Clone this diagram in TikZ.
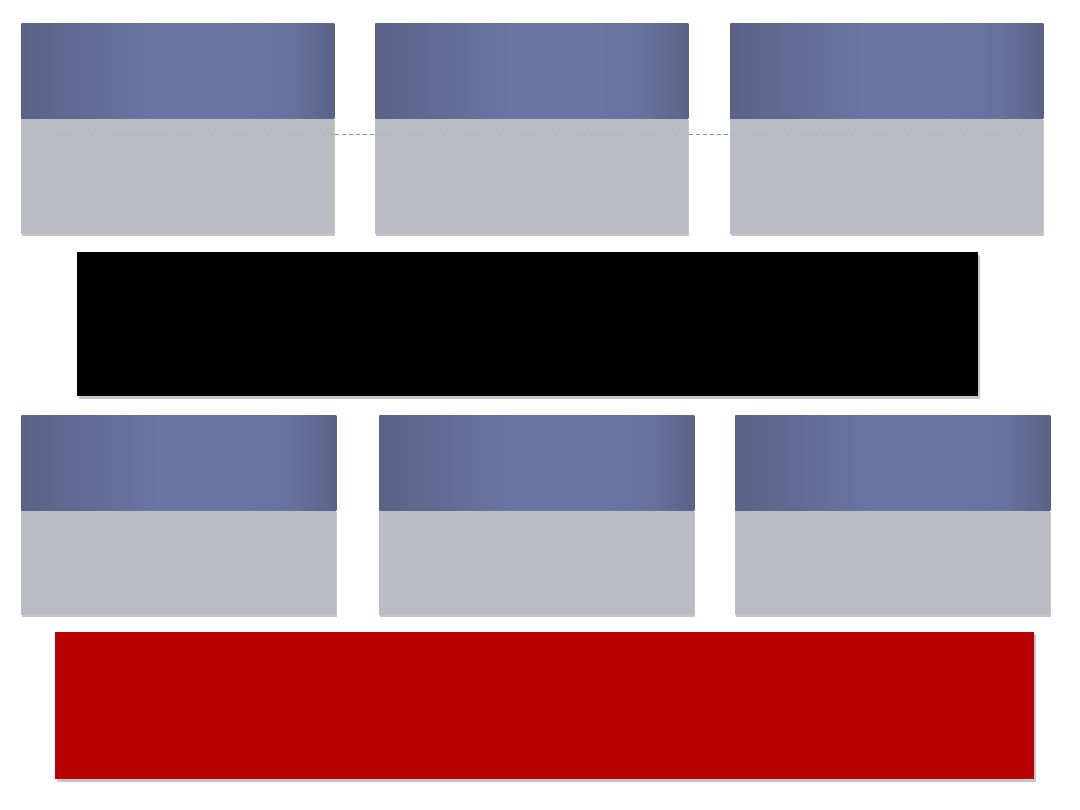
\documentclass[tikz,border=0pt]{standalone}
\usepackage{tikz}
\usetikzlibrary{shadows}

\definecolor{headmid}{HTML}{6A76A4}
\definecolor{headedge}{HTML}{5A6286}
\definecolor{bodygray}{HTML}{BABCC4}
\definecolor{linkblue}{HTML}{8497B2}
\definecolor{barred}{HTML}{B80000}

% only 25bp..75bp land on the box
\pgfdeclarehorizontalshading{headshade}{100bp}{
  color(0bp)=(headedge); color(25bp)=(headedge); color(36bp)=(headedge!50!headmid);
  color(47bp)=(headmid); color(58bp)=(headmid); color(68bp)=(headmid!80!headedge);
  color(75bp)=(headedge); color(100bp)=(headedge)}

\tikzset{
  head/.style={anchor=north west, inner sep=0pt, shading=headshade, draw=none,
    drop shadow={shadow xshift=0.8pt, shadow yshift=-0.4pt, opacity=0.35}},
  body/.style={anchor=north west, inner sep=0pt, fill=bodygray, draw=none,
    drop shadow={shadow xshift=0.8pt, shadow yshift=-1.4pt, opacity=0.45}},
  bar/.style={anchor=north west, inner sep=0pt, draw=none,
    drop shadow={shadow xshift=0.9pt, shadow yshift=-1.6pt, opacity=0.45}},
  link/.style={densely dashed, linkblue, line width=0.6pt},
}

\begin{document}
\begin{tikzpicture}[x=0.025cm, y=-0.025cm]
        \useasboundingbox[fill=white] (0, 0) rectangle (1080, 810);

        % top row
        \foreach \i/\x in {1/21, 2/375, 3/730} {
          \node[body, minimum width=313*0.025cm, minimum height=116*0.025cm] (tb\i) at (\x, 118) {};
          \node[head, minimum width=313*0.025cm, minimum height=95*0.025cm] (th\i) at (\x, 23) {};
        }

        \coordinate (ds) at (55, 134);
        \coordinate (de) at (1025, 134);
        \draw[link, opacity=0.22] (ds) -- (de);
        \draw[link] (tb1.east |- ds) -- (tb2.west |- ds);
        \draw[link] (tb2.east |- ds) -- (tb3.west |- ds);

        % black bar
        \node[bar, fill=black, minimum width=901*0.025cm, minimum height=144*0.025cm] (mid) at (77, 252) {};

        % bottom row
        \foreach \i/\x in {1/21, 2/379, 3/735} {
          \node[body, minimum width=315*0.025cm, minimum height=105*0.025cm] (bb\i) at (\x, 510) {};
          \node[head, minimum width=315*0.025cm, minimum height=95*0.025cm] (bh\i) at (\x, 415) {};
        }

        % red bar
        \node[bar, fill=barred, minimum width=979*0.025cm, minimum height=147*0.025cm] (low) at (55, 632) {};
      \end{tikzpicture}
\end{document}
